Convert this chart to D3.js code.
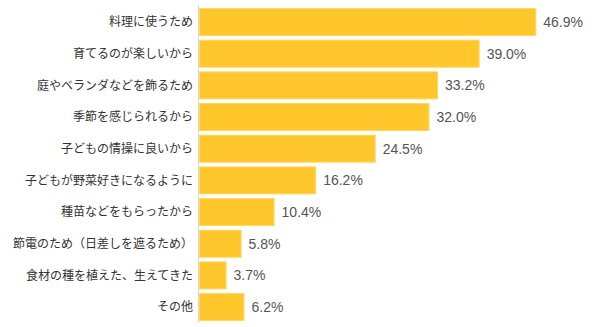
<!DOCTYPE html>
<html><head><meta charset="utf-8">
<script src="https://cdn.jsdelivr.net/npm/d3@7/dist/d3.min.js"></script>
<style>body{margin:0;background:#fff}svg{display:block}</style>
</head><body><svg id="c" width="602" height="327"></svg>
<script>
const categories = ["料理に使うため","育てるのが楽しいから","庭やベランダなどを飾るため","季節を感じられるから","子どもの情操に良いから","子どもが野菜好きになるように","種苗などをもらったから","節電のため（日差しを遮るため）","食材の種を植えた、生えてきた","その他"];
const values = [46.9,39.0,33.2,32.0,24.5,16.2,10.4,5.8,3.7,6.2];
const valueLabels = ["46.9%","39.0%","33.2%","32.0%","24.5%","16.2%","10.4%","5.8%","3.7%","6.2%"];

const svg = d3.select("#c");
const x = d3.scaleLinear().domain([0,50]).range([199,557.5]);
const y = d3.scaleBand().domain(categories).range([6.2,322.9]).paddingInner(0.116).paddingOuter(0.058);

svg.selectAll("rect.bar").data(values).join("rect").attr("class","bar")
  .attr("x",x(0)+0.5).attr("y",(d,i)=>y(categories[i])+0.5)
  .attr("width",d=>x(d)-x(0)).attr("height",y.bandwidth()-1)
  .attr("fill","#FFC72C").attr("stroke","#FFD75E").attr("stroke-width",1);

svg.append("line").attr("x1",198.5).attr("x2",198.5).attr("y1",5).attr("y2",323)
  .attr("stroke","#d8d8d8").attr("stroke-width",1);

svg.selectAll("text.cat").data(categories).join("text").attr("class","cat")
  .attr("x",193).attr("y",d=>y(d)+y.bandwidth()/2).attr("dy","0.36em")
  .attr("text-anchor","end").attr("font-family","'Noto Sans CJK JP', sans-serif")
  .attr("font-size","12px").attr("fill","#333").text(d=>d);

svg.selectAll("text.val").data(values).join("text").attr("class","val")
  .attr("x",d=>x(d)+8).attr("y",(d,i)=>y(categories[i])+y.bandwidth()/2).attr("dy","0.36em")
  .attr("font-family","'Liberation Sans', Arial, sans-serif")
  .attr("font-size","14px").attr("fill","#555").text((d,i)=>valueLabels[i]);
</script></body></html>
